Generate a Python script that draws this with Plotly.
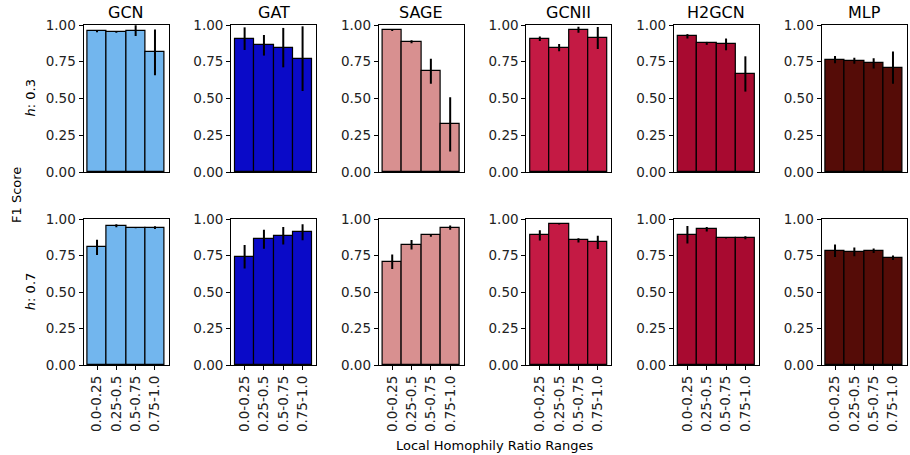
import plotly.graph_objects as go

models = ["GCN", "GAT", "SAGE", "GCNII", "H2GCN", "MLP"]
ranges = ["0.0-0.25", "0.25-0.5", "0.5-0.75", "0.75-1.0"]
row_labels = ["<i>h</i>: 0.3", "<i>h</i>: 0.7"]
colors = ["#72b6ee", "#0a0ac8", "#d89090", "#c41a44", "#a80a30", "#550c07"]

h03_mean = [
    [0.957, 0.952, 0.962, 0.814],
    [0.907, 0.862, 0.846, 0.771],
    [0.964, 0.886, 0.685, 0.324],
    [0.907, 0.846, 0.968, 0.912],
    [0.923, 0.875, 0.868, 0.667],
    [0.764, 0.757, 0.739, 0.710],
]
h03_err = [
    [0.006, 0.004, 0.037, 0.155],
    [0.077, 0.070, 0.134, 0.220],
    [0.005, 0.010, 0.085, 0.184],
    [0.015, 0.025, 0.020, 0.075],
    [0.015, 0.010, 0.040, 0.120],
    [0.025, 0.020, 0.035, 0.110],
]
h07_mean = [
    [0.806, 0.954, 0.941, 0.941],
    [0.742, 0.861, 0.886, 0.909],
    [0.708, 0.824, 0.888, 0.941],
    [0.888, 0.968, 0.854, 0.840],
    [0.893, 0.930, 0.872, 0.872],
    [0.783, 0.776, 0.783, 0.735],
]
h07_err = [
    [0.052, 0.010, 0.005, 0.010],
    [0.080, 0.065, 0.060, 0.055],
    [0.050, 0.033, 0.010, 0.015],
    [0.035, 0.005, 0.015, 0.045],
    [0.060, 0.015, 0.005, 0.010],
    [0.042, 0.030, 0.015, 0.015],
]
yticks = [0.0, 0.25, 0.5, 0.75, 1.0]

W, H = 910, 455
FONT = "DejaVu Sans"


def fx(t):
    return t / W


def fy(t):
    return 1 - t / H


fig = go.Figure()

row_px = [(25, 172), (219, 365.3)]
left0, step, pw = 83.5, 147.6, 85
xpos = list(range(len(ranges)))

layout = {}
for r, (means, errs) in enumerate([(h03_mean, h03_err), (h07_mean, h07_err)]):
    for c, m in enumerate(models):
        idx = r * 6 + c + 1
        xa = "x" if idx == 1 else f"x{idx}"
        ya = "y" if idx == 1 else f"y{idx}"
        plus = [min(e, 1.0 - v) for v, e in zip(means[c], errs[c])]
        fig.add_trace(go.Bar(
            x=xpos, y=means[c], width=1.0,
            marker=dict(color=colors[c], line=dict(color="black", width=1.2)),
            error_y=dict(type="data", symmetric=False, array=plus, arrayminus=errs[c],
                         color="black", thickness=2, width=0),
            xaxis=xa, yaxis=ya, showlegend=False,
        ))
        l = left0 + c * step
        top, bot = row_px[r]
        xkey = "xaxis" if idx == 1 else f"xaxis{idx}"
        ykey = "yaxis" if idx == 1 else f"yaxis{idx}"
        layout[xkey] = dict(
            domain=[fx(l), fx(l + pw)], anchor=ya, range=[-0.7, 3.7],
            tickvals=xpos, ticktext=ranges, showticklabels=(r == 1),
            ticks="outside" if r == 1 else "", ticklen=4, tickcolor="black",
            tickangle=-90, showline=True, linecolor="black", linewidth=1,
            mirror=True, showgrid=False, zeroline=False, automargin=False,
            tickfont=dict(family=FONT, size=13.5, color="#222"),
        )
        layout[ykey] = dict(
            domain=[fy(bot), fy(top)], anchor=xa, range=[0, 1.0],
            tickvals=yticks, ticktext=[f"{v:.2f}" for v in yticks],
            ticks="outside", ticklen=4, tickcolor="black",
            showline=True, linecolor="black", linewidth=1, mirror=True,
            showgrid=False, zeroline=False, automargin=False,
            tickfont=dict(family=FONT, size=13.5, color="#222"),
        )

annotations = []
for c, m in enumerate(models):
    l = left0 + c * step
    annotations.append(dict(text=m, x=fx(l + pw / 2), y=fy(12), xref="paper", yref="paper",
                            showarrow=False, font=dict(family=FONT, size=16, color="black"),
                            xanchor="center", yanchor="middle"))
for r, lab in enumerate(row_labels):
    top, bot = row_px[r]
    annotations.append(dict(text=lab, x=fx(30), y=fy((top + bot) / 2), xref="paper", yref="paper",
                            showarrow=False, textangle=-90, font=dict(family=FONT, size=13, color="black"),
                            xanchor="center", yanchor="middle"))
annotations.append(dict(text="F1 Score", x=fx(16), y=fy(195), xref="paper", yref="paper",
                        showarrow=False, textangle=-90, font=dict(family=FONT, size=13, color="black"),
                        xanchor="center", yanchor="middle"))
annotations.append(dict(text="Local Homophily Ratio Ranges", x=fx(495), y=fy(445), xref="paper", yref="paper",
                        showarrow=False, font=dict(family=FONT, size=13, color="black"),
                        xanchor="center", yanchor="middle"))

fig.update_layout(
    template="none",
    width=W, height=H, margin=dict(l=0, r=0, t=0, b=0, autoexpand=False),
    paper_bgcolor="white", plot_bgcolor="white",
    bargap=0, annotations=annotations, **layout,
)
fig.write_html("out.html", config={"displayModeBar": False},
               post_script="document.body.style.margin='0';document.body.style.overflow='hidden';")
